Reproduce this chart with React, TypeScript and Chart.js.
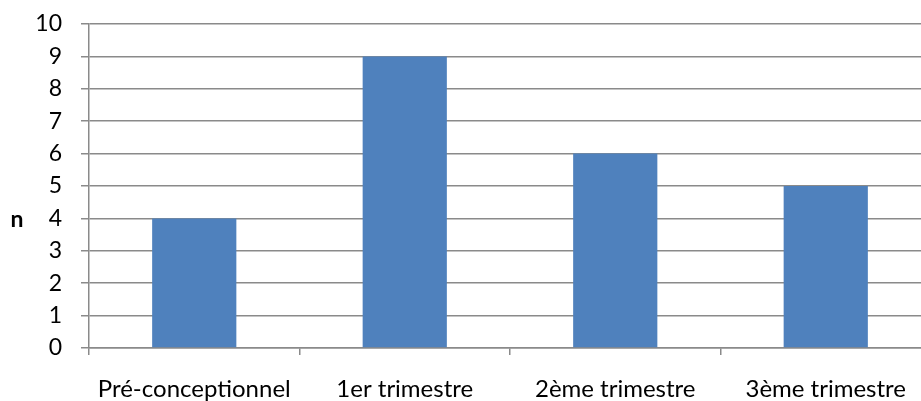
import React, { useEffect, useRef } from "react";
import { Chart, registerables } from "chart.js";

Chart.register(...registerables);

// Number of cases per period
const categories: string[] = ["Pré-conceptionnel", "1er trimestre", "2ème trimestre", "3ème trimestre"];
const counts: number[] = [4, 9, 6, 5];
const yMin = 0;
const yMax = 10;
const yStep = 1;
const yTitle = "n";

const FONT = "Lato, 'Open Sans', sans-serif";
const GRID = "#8a8a8a";
const BAR = "#4F81BD";

// Horizontal axis title drawn to the left of the value axis
const yTitlePlugin = {
  id: "yTitleHorizontal",
  afterDraw(chart: Chart) {
    const { ctx, chartArea } = chart;
    const y = chartArea.top + (chartArea.bottom - chartArea.top) * 0.605;
    ctx.save();
    ctx.font = `bold 23px ${FONT}`;
    ctx.fillStyle = "#000";
    ctx.textAlign = "center";
    ctx.textBaseline = "middle";
    ctx.fillText(yTitle, 17, y);
    ctx.restore();
  },
};

export default function App() {
  const canvasRef = useRef<HTMLCanvasElement | null>(null);

  useEffect(() => {
    const canvas = canvasRef.current;
    if (!canvas) return;
    const chart = new Chart(canvas, {
      type: "bar",
      data: {
        labels: categories,
        datasets: [
          {
            data: counts,
            backgroundColor: BAR,
            borderWidth: 0,
            categoryPercentage: 1,
            barPercentage: 0.4,
          },
        ],
      },
      options: {
        animation: false,
        responsive: false,
        maintainAspectRatio: false,
        layout: { padding: { left: 0, right: 14, top: 24, bottom: 0 } },
        plugins: {
          legend: { display: false },
          tooltip: { enabled: false },
          title: { display: false },
        },
        scales: {
          x: {
            offset: true,
            grid: {
              offset: true,
              drawOnChartArea: false,
              drawTicks: true,
              tickLength: 7,
              color: GRID,
              lineWidth: 1.5,
            },
            border: { display: true, color: GRID, width: 1.5 },
            ticks: {
              color: "#000",
              font: { family: FONT, size: 24 },
              padding: 20,
              maxRotation: 0,
              autoSkip: false,
            },
            afterFit(scale: any) {
              scale.height = 53;
              scale.paddingLeft = 0;
              scale.paddingRight = 0;
            },
          },
          y: {
            min: yMin,
            max: yMax,
            grid: {
              color: GRID,
              lineWidth: 1.5,
              drawTicks: true,
              tickLength: 8,
            },
            border: { display: true, color: GRID, width: 1.5 },
            ticks: {
              stepSize: yStep,
              color: "#000",
              font: { family: FONT, size: 23 },
              padding: 19,
            },
            afterFit(scale: any) {
              scale.width = 89;
              // keep the plot top governed by the layout padding alone
              scale.paddingTop = 0;
              scale.paddingBottom = 0;
            },
          },
        },
      },
      plugins: [yTitlePlugin],
    });
    return () => chart.destroy();
  }, []);

  return (
    <div
      style={{
        position: "fixed",
        left: 0,
        top: 0,
        width: 921,
        height: 401,
        overflow: "hidden",
        background: "#fff",
      }}
    >
      <canvas ref={canvasRef} width={945} height={401} style={{ display: "block" }} />
    </div>
  );
}
